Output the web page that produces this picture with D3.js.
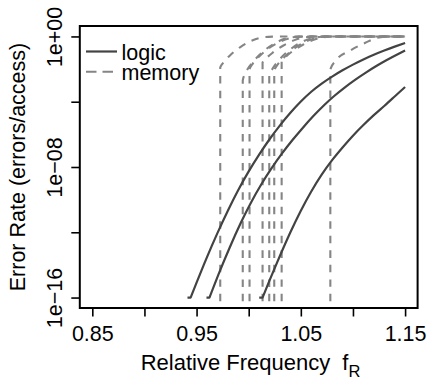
<!DOCTYPE html>
<html><head><meta charset="utf-8">
<script src="https://cdn.jsdelivr.net/npm/d3@7"></script>
<style>
body{margin:0;background:#fff}
svg{display:block}
text{font-family:"Liberation Sans",Arial,Helvetica,sans-serif;fill:#000}
</style>
</head><body>
<svg id="chart" width="427" height="384"></svg>
<script>
// ---- data ----
const xTicks = [0.85, 0.90, 0.95, 1.00, 1.05, 1.10, 1.15];
const xTickLabels = ["0.85", "", "0.95", "", "1.05", "", "1.15"];
const yTicks = [1e0, 1e-4, 1e-8, 1e-12, 1e-16];
const yTickLabels = ["1e+00", "", "1e\u221208", "", "1e\u221216"];
const legendLabels = ["logic", "memory"];

const logic1 = [[0.9413,1e-16],[0.9443,1e-16],[0.95,8.32e-16],[0.96,3.02e-14],[0.97,8.91e-13],[0.98,2.09e-11],[0.99,3.89e-10],[1.00,5.37e-9],[1.01,5.75e-8],[1.02,5.01e-7],[1.03,3.55e-6],[1.04,2.09e-5],[1.05,1.02e-4],[1.06,4.07e-4],[1.07,1.29e-3],[1.08,3.47e-3],[1.09,8.41e-3],[1.10,1.88e-2],[1.11,3.89e-2],[1.12,7.50e-2],[1.13,0.1365],[1.14,0.237],[1.15,0.398]];
const logic2 = [[0.9595,1e-16],[0.9624,1e-16],[0.972,3.72e-15],[0.982,1.26e-13],[0.992,3.31e-12],[1.002,6.31e-11],[1.012,8.51e-10],[1.022,8.51e-9],[1.032,6.76e-8],[1.042,4.47e-7],[1.052,2.57e-6],[1.062,1.32e-5],[1.072,5.89e-5],[1.082,2.24e-4],[1.092,7.41e-4],[1.102,2.19e-3],[1.112,5.89e-3],[1.122,1.48e-2],[1.132,3.47e-2],[1.142,7.59e-2],[1.15,0.138]];
const logic3 = [[1.0101,1e-16],[1.0133,1e-16],[1.02,1.12e-15],[1.03,3.63e-14],[1.04,1.0e-12],[1.05,2.09e-11],[1.06,3.16e-10],[1.07,3.39e-9],[1.08,2.63e-8],[1.09,1.58e-7],[1.10,8.32e-7],[1.11,3.72e-6],[1.12,1.51e-5],[1.13,5.50e-5],[1.14,2.09e-4],[1.15,7.94e-4]];

const memory1 = [[0.9727,1e-18],[0.9727,1.26e-2],[0.9757,2.5e-2],[0.9827,7.6e-2],[0.9927,0.24],[1.0027,0.54],[1.0127,0.87],[1.0227,0.977],[1.0327,1],[1.15,1]];
const memory2 = [[0.9943,1e-18],[0.9943,2.0e-3],[0.9973,6.3e-3],[1.0043,2.8e-2],[1.0143,0.126],[1.0243,0.355],[1.0343,0.71],[1.0443,0.93],[1.0543,1],[1.15,1]];
const memory3 = [[1.0008,1e-18],[1.0008,1.0e-2],[1.0038,2.1e-2],[1.0108,6.6e-2],[1.0208,0.22],[1.0308,0.5],[1.0408,0.83],[1.0508,0.977],[1.0608,1],[1.15,1]];
const memory4 = [[1.0133,1e-18],[1.0133,2.5e-2],[1.0163,4.2e-2],[1.0233,0.105],[1.0333,0.28],[1.0433,0.575],[1.0533,0.87],[1.0633,0.977],[1.0733,1],[1.15,1]];
const memory5 = [[1.0197,1e-18],[1.0197,4.0e-3],[1.0227,1.0e-2],[1.0297,4.0e-2],[1.0397,0.158],[1.0497,0.417],[1.0597,0.76],[1.0697,0.955],[1.0797,1],[1.15,1]];
const memory6 = [[1.0245,1e-18],[1.0245,7.9e-3],[1.0275,1.78e-2],[1.0345,5.6e-2],[1.0445,0.2],[1.0545,0.48],[1.0645,0.81],[1.0745,0.977],[1.0845,1],[1.15,1]];
const memory7 = [[1.0316,1e-18],[1.0316,3.2e-2],[1.0346,5.0e-2],[1.0416,0.12],[1.0516,0.30],[1.0616,0.60],[1.0716,0.89],[1.0816,1],[1.15,1]];
const memory8 = [[1.0783,1e-18],[1.0783,9.5e-3],[1.0831,3.1e-2],[1.0975,0.138],[1.1119,0.41],[1.1233,0.83],[1.1331,0.98],[1.1431,1],[1.15,1]];

const logicSeries = [logic1, logic2, logic3];
const memorySeries = [memory1, memory2, memory3, memory4, memory5, memory6, memory7, memory8];

// ---- layout ----
const svg = d3.select("#chart");
const L = 79.8, R = 417.6, T = 26, B = 308;
const FS = 21.5;
const logicColor = "#434343", memColor = "#858585";

const x = d3.scaleLinear().domain([0.85 - 0.012, 1.15 + 0.012]).range([L, R]);
const y = d3.scaleLog().domain([Math.pow(10, -16.64), Math.pow(10, 0.64)]).range([B, T]);

svg.append("defs").append("clipPath").attr("id", "clip")
  .append("rect").attr("x", L).attr("y", T).attr("width", R - L).attr("height", B - T);

const memLine = d3.line().x(d => x(d[0])).y(d => y(d[1])).curve(d3.curveMonotoneX);
const flatLine = d3.line().x(d => x(d[0])).y(d => y(d[1]));
const smoothLine = d3.line().x(d => x(d[0])).y(d => y(d[1])).curve(d3.curveNatural);

const g = svg.append("g").attr("clip-path", "url(#clip)");
memorySeries.forEach(s => {
  g.append("path").attr("d", memLine(s)).attr("fill", "none")
    .attr("stroke", memColor).attr("stroke-width", 2.1).attr("stroke-dasharray", "7.5,7");
});
logicSeries.forEach(s => {
  g.append("path").attr("d", flatLine(s.slice(0, 2)) + smoothLine(s.slice(1)).replace(/^M[^C L]*/, "L" + x(s[1][0]) + "," + y(s[1][1])))
    .attr("fill", "none").attr("stroke", logicColor).attr("stroke-width", 2.2)
    .attr("stroke-linejoin", "round");
});

// box
svg.append("rect").attr("x", L).attr("y", T).attr("width", R - L).attr("height", B - T)
  .attr("fill", "none").attr("stroke", "#000").attr("stroke-width", 2);

// x axis
const xAxis = d3.axisBottom(x).tickValues(xTicks).tickSize(8.5).tickPadding(8)
  .tickFormat((d, i) => xTickLabels[i]);
const gx = svg.append("g").attr("transform", `translate(0,${B})`).call(xAxis);
gx.select(".domain").remove();
gx.selectAll(".tick line").attr("stroke", "#000").attr("stroke-width", 1.6);
gx.selectAll(".tick text").attr("font-size", FS).attr("font-family", "Liberation Sans, Arial, sans-serif")
  .attr("dy", null).attr("y", 33);

// y axis
const yAxis = d3.axisLeft(y).tickValues(yTicks).tickSize(8.5)
  .tickFormat((d, i) => yTickLabels[i]);
const gy = svg.append("g").attr("transform", `translate(${L},0)`).call(yAxis);
gy.select(".domain").remove();
gy.selectAll(".tick line").attr("stroke", "#000").attr("stroke-width", 1.6);
gy.selectAll(".tick text").attr("font-size", FS).attr("font-family", "Liberation Sans, Arial, sans-serif")
  .attr("x", null).attr("dy", null).attr("text-anchor", "middle")
  .attr("transform", "translate(-18,0) rotate(-90)");

// axis titles
svg.append("text").attr("transform", `translate(25,${(T + B) / 2}) rotate(-90)`)
  .attr("text-anchor", "middle").attr("font-size", FS).text("Error Rate (errors/access)");

const xt = svg.append("text").attr("x", 250.5).attr("y", 370)
  .attr("text-anchor", "middle").attr("font-size", 22);
xt.append("tspan").text("Relative Frequency");
xt.append("tspan").attr("dx", 12).text("f");
xt.append("tspan").attr("font-size", 16.5).attr("dy", 7).text("R");

// legend
const leg = svg.append("g");
const legY = [51.5, 71.8];
leg.append("line").attr("x1", 86).attr("x2", 117).attr("y1", legY[0]).attr("y2", legY[0])
  .attr("stroke", logicColor).attr("stroke-width", 2.2);
leg.append("line").attr("x1", 86).attr("x2", 117).attr("y1", legY[1]).attr("y2", legY[1])
  .attr("stroke", memColor).attr("stroke-width", 2).attr("stroke-dasharray", "10.5,6");
legendLabels.forEach((t, i) => {
  leg.append("text").attr("x", 121.5).attr("y", legY[i] + 8).attr("font-size", FS).text(t);
});
</script>
</body></html>
